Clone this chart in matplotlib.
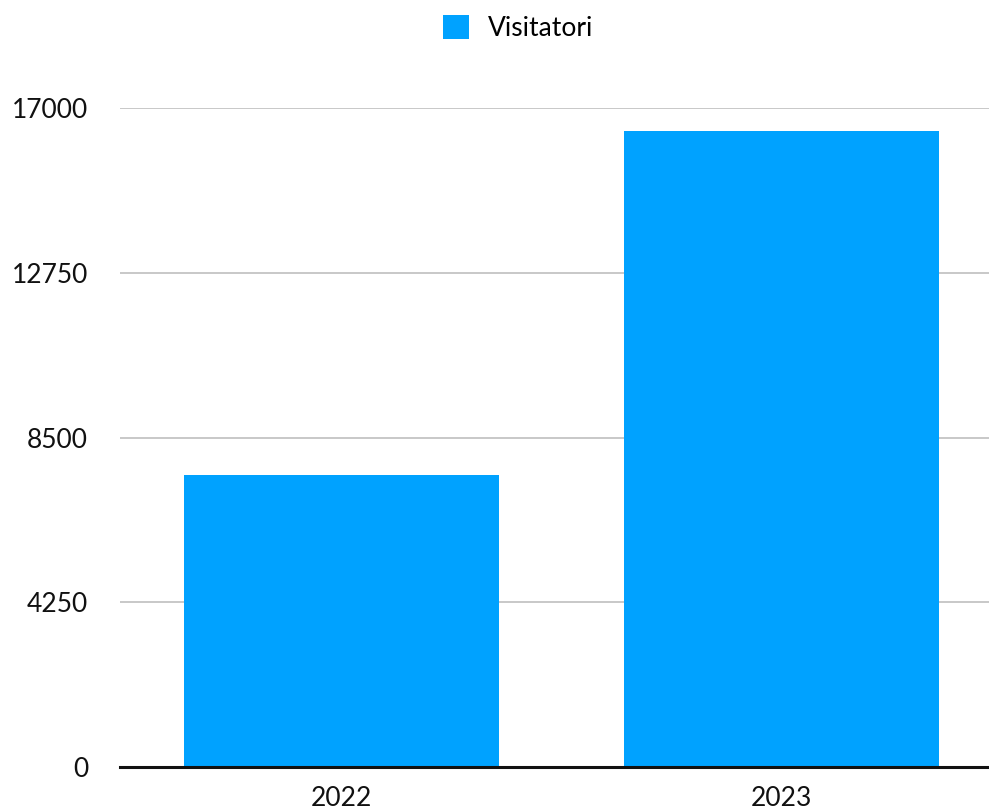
import matplotlib
matplotlib.use("Agg")
import matplotlib.pyplot as plt
from matplotlib.patches import Patch

categories = ["2022", "2023"]
visitatori = [7540, 16400]
yticks = [0, 4250, 8500, 12750, 17000]
series_name = "Visitatori"

plt.rcParams['font.family'] = ['Lato', 'DejaVu Sans']

fig = plt.figure(figsize=(9.89, 8.08), dpi=100)
ax = fig.add_axes([120/989, 41/808, 869/989, 659/808])

x = list(range(len(categories)))
ax.bar(x, visitatori, width=0.716, color="#00A2FF", zorder=3)
ax.set_xlim(-0.503, -0.503 + 869/440)
ax.set_ylim(0, 17000)
ax.set_yticks(yticks)
ax.set_yticklabels([str(t) for t in yticks], fontsize=19, color="#111111")
ax.set_xticks(x)
ax.set_xticklabels(categories, fontsize=19, color="#111111")
ax.tick_params(axis='y', length=0, pad=23)
ax.tick_params(axis='x', length=0, pad=14)
for s in ["top", "right", "left"]:
    ax.spines[s].set_visible(False)
ax.spines["bottom"].set_linewidth(2.2)
ax.spines["bottom"].set_color("#111111")
ax.spines["bottom"].set_zorder(4)
ax.yaxis.grid(True, color="#c4c4c4", linewidth=1.3, zorder=0)
ax.set_axisbelow(True)

handle = Patch(facecolor="#00A2FF", edgecolor="none")
fig.legend([handle], [series_name], loc="center", bbox_to_anchor=(518/989, 1 - 28/808),
           frameon=False, fontsize=19, handlelength=1.0, handleheight=1.0, handletextpad=0.7)

fig.savefig("out.png", dpi=100)
